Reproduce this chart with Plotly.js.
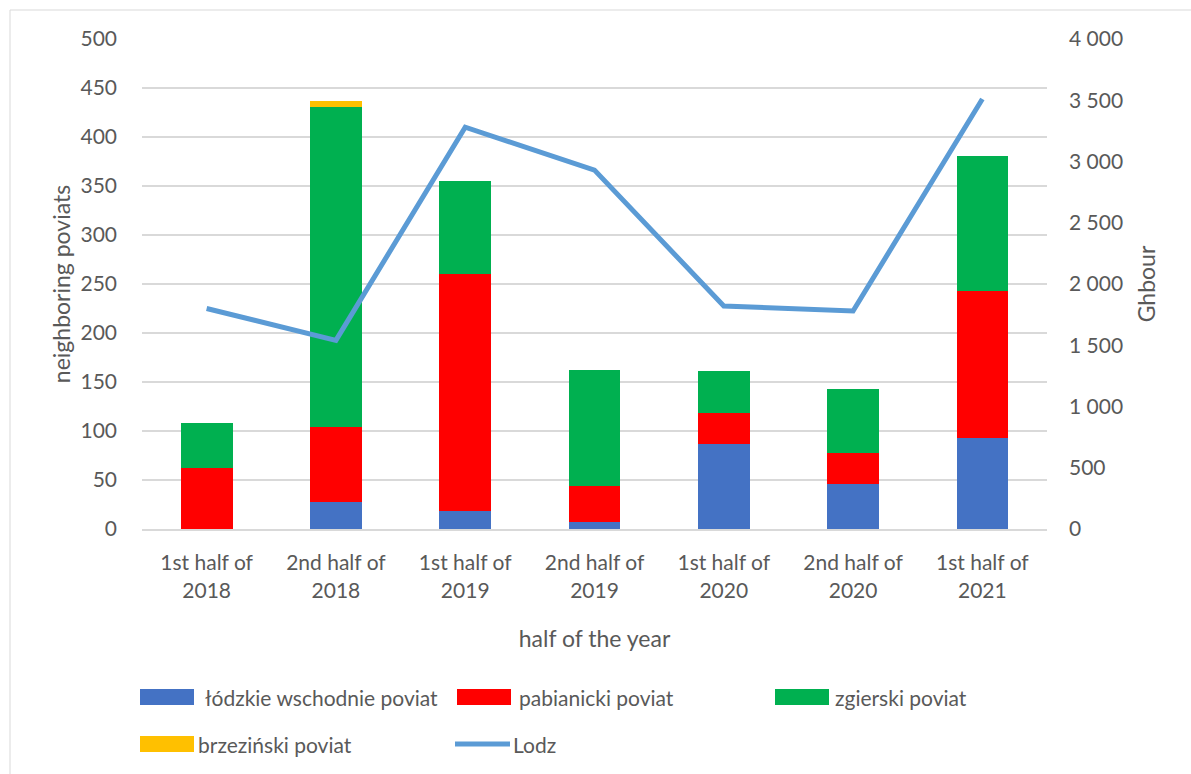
<!DOCTYPE html>
<html>
<head>
<meta charset="utf-8">
<script src="https://cdn.plot.ly/plotly-3.0.1.min.js"></script>
<style>
html,body{margin:0;padding:0;background:#fff;}
#chart{width:1191px;height:774px;}
</style>
</head>
<body>
<div id="chart"></div>
<script>
const categories = ["1st half of<br>2018","2nd half of<br>2018","1st half of<br>2019","2nd half of<br>2019","1st half of<br>2020","2nd half of<br>2020","1st half of<br>2021"];
const lodzkieWschodnie = [0, 28, 18, 7, 87, 46, 93];
const pabianicki = [62, 76, 242, 37, 31, 32, 150];
const zgierski = [46, 327, 95, 118, 43, 65, 138];
const brzezinski = [0, 6, 0, 0, 0, 0, 0];
const lodz = [1800, 1540, 3280, 2930, 1820, 1780, 3510];
const leftTicks = [0,50,100,150,200,250,300,350,400,450,500];
const rightTicks = [0,500,1000,1500,2000,2500,3000,3500,4000];
const rightTickText = ["0","500","1 000","1 500","2 000","2 500","3 000","3 500","4 000"];

const seriesNames = ["łódzkie wschodnie poviat","pabianicki poviat","zgierski poviat","brzeziński poviat","Lodz"];
const colors = ["#4472c4","#ff0000","#00b050","#ffc000","#5b9bd5"];

const font = "Lato, 'Open Sans', sans-serif";
const gray = "#595959";

const barData = [lodzkieWschodnie, pabianicki, zgierski, brzezinski];
const traces = barData.map((d,i)=>({
  type:"bar", x:categories, y:d, name:seriesNames[i],
  marker:{color:colors[i], line:{width:0}}, showlegend:false, hoverinfo:"y+name"
}));
traces.push({
  type:"scatter", mode:"lines", x:categories, y:lodz, yaxis:"y2", name:seriesNames[4],
  line:{color:colors[4], width:5}, showlegend:false
});

// plot area in pixels: left 142, right 1047, top 39, bottom 529
const PL = 142, PW = 905, PB = 529, PH = 490;
const px = v => (v - PL) / PW, py = v => (PB - v) / PH;

// custom legend (Excel-like wide swatches)
const shapes = [];
const annotations = [];
const legendItems = [
  {i:0, x:140, tx:203, y:697}, {i:1, x:457, tx:517, y:697}, {i:2, x:775, tx:833, y:697},
  {i:3, x:140, tx:196, y:744}, {i:4, x:455, tx:511, y:744}
];
legendItems.forEach(it=>{
  if (it.i === 4) {
    shapes.push({type:"line", xref:"paper", yref:"paper", x0:px(it.x), x1:px(it.x+55), y0:py(it.y), y1:py(it.y), line:{color:colors[4], width:5}});
  } else {
    shapes.push({type:"rect", xref:"paper", yref:"paper", x0:px(it.x), x1:px(it.x+54), y0:py(it.y-8), y1:py(it.y+8), fillcolor:colors[it.i], line:{width:0}});
  }
  annotations.push({xref:"paper", yref:"paper", x:px(it.tx), y:py(it.y), xanchor:"left", yanchor:"middle", showarrow:false, text:seriesNames[it.i], font:{family:font, size:21, color:gray}});
});
// outer frame (left and top)
shapes.push({type:"line", xref:"paper", yref:"paper", x0:px(10), x1:px(10), y0:py(10), y1:py(774), line:{color:"#d9d9d9", width:1}});
shapes.push({type:"line", xref:"paper", yref:"paper", x0:px(10), x1:px(1191), y0:py(10), y1:py(10), line:{color:"#d9d9d9", width:1}});

const layout = {
  width:1191, height:774,
  margin:{l:142, r:144, t:39, b:245},
  paper_bgcolor:"#fff", plot_bgcolor:"#fff",
  barmode:"stack", bargap:0.6,
  font:{family:font, color:gray, size:20},
  showlegend:false,
  xaxis:{
    type:"category", tickfont:{size:21, color:gray, family:font},
    showline:true, linecolor:"#d9d9d9", linewidth:2, ticks:"", showgrid:false,
    ticklabelstandoff:14,
    title:{text:"half of the year", font:{size:23, color:gray, family:font}, standoff:30},
    automargin:false
  },
  yaxis:{
    range:[0,500], tickvals:leftTicks, ticktext:leftTicks.map(String),
    tickfont:{size:21, color:gray, family:font}, gridcolor:"#d9d9d9", gridwidth:1.5,
    zeroline:false, showline:false, ticks:"", ticklen:0, ticklabelstandoff:24,
    title:{text:"neighboring poviats", font:{size:23, color:gray, family:font}, standoff:3},
    automargin:false
  },
  yaxis2:{
    overlaying:"y", side:"right", range:[0,4000], tickvals:rightTicks, ticktext:rightTickText,
    tickfont:{size:21, color:gray, family:font}, showgrid:false, zeroline:false, showline:false,
    ticks:"", ticklabelstandoff:21,
    title:{text:"Ghbour", font:{size:23, color:gray, family:font}, standoff:16},
    automargin:false
  },
  shapes:shapes, annotations:annotations
};

Plotly.newPlot("chart", traces, layout, {displayModeBar:false, staticPlot:true});
</script>
</body>
</html>
